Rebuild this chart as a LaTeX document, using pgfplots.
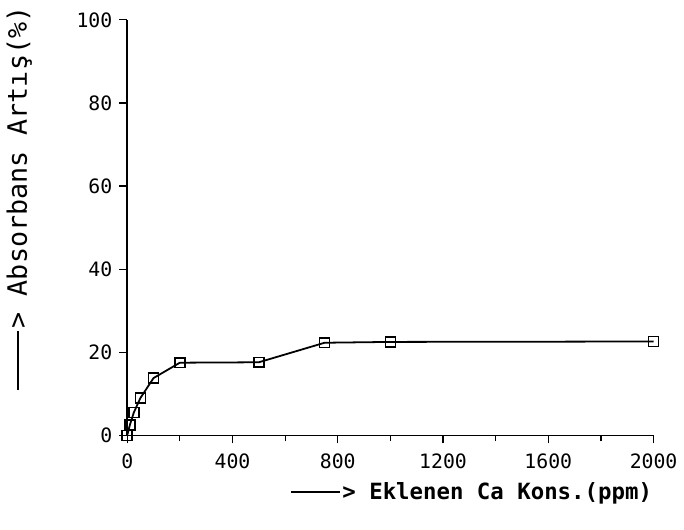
\documentclass[border=0pt]{standalone}
\usepackage{pgfplots}
\pgfplotsset{compat=1.18}
\usepackage{fontspec}
\setmainfont{DejaVu Sans Mono}
\newcommand{\arr}{\rule[0.3em]{2.2em}{0.08em}\kern0.1em>}
\begin{document}
\begin{tikzpicture}
\begin{axis}[
  scale only axis,
  width=266pt, height=210pt,
  xmin=0, xmax=2000, ymin=0, ymax=100,
  axis lines=left,
  axis line style={-, line width=0.9pt},
  xtick={0,400,800,1200,1600,2000},
  ytick={0,20,40,60,80,100},
  minor xtick={200,600,1000,1400,1800},
  tick align=outside,
  major tick length=4pt,
  minor tick length=3pt,
  every tick/.style={black, line width=0.6pt},
  tick label style={font=\fontsize{10}{12}\selectfont},
  xticklabel style={yshift=-2pt},
  /pgf/number format/assume math mode=true,
  /pgf/number format/1000 sep={},
  xlabel={\bfseries \arr\ Eklenen Ca Kons.(ppm)},
  xlabel style={font=\fontsize{11.3}{14}\selectfont, at={(axis description cs:0.654,-0.14)}, anchor=center},
  ylabel={\arr\ Absorbans Artış(\%)},
  ylabel style={font=\fontsize{13.5}{15}\selectfont, at={(axis description cs:-0.205,0.571)}, anchor=center, rotate=0},
  clip=false,
]
\addplot[black, line width=0.9pt, mark=square, mark size=2.5pt, mark options={solid, line width=0.8pt}]
coordinates {
(0,0) (10,2.5) (25,5.5) (50,9) (100,13.8) (200,17.5) (500,17.6) (750,22.3) (1000,22.5) (2000,22.6)
};
\end{axis}
\path (current axis.origin) ++(-62pt,-47.5pt) coordinate (bbA);
\useasboundingbox (bbA) rectangle ++(342pt,267.5pt);
\end{tikzpicture}
\end{document}
